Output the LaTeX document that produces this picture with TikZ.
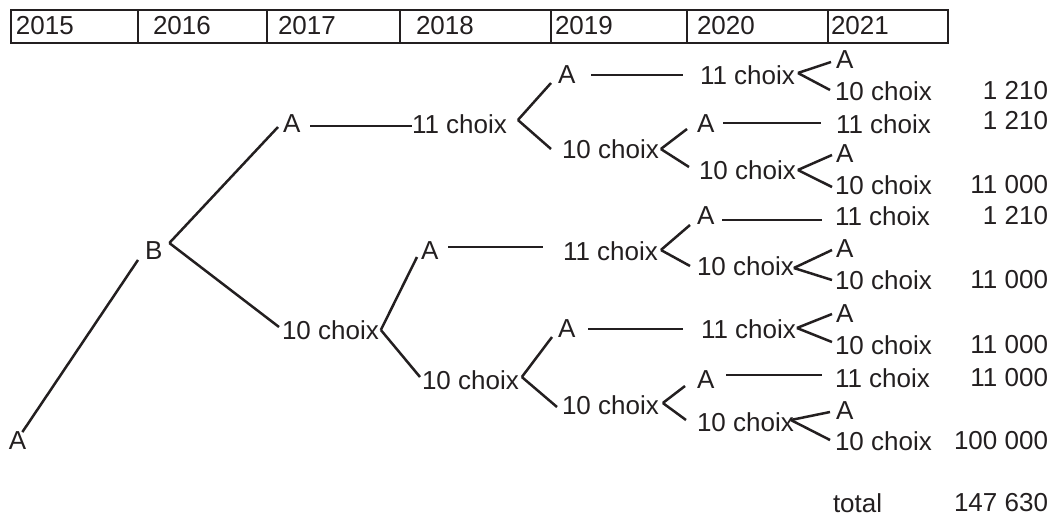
\documentclass[tikz,border=0pt]{standalone}
\usepackage{fontspec}
\setmainfont{Liberation Sans}
\usepackage{xcolor}
\definecolor{ink}{RGB}{35,31,32}
\usetikzlibrary{positioning, calc}
\tikzstyle{Leaf} = [
inner sep=0pt, outer sep=0pt,
anchor=west, text=ink,
font=\fontsize{26}{30}\selectfont]
\tikzstyle{Count} = [Leaf, anchor=east]
\tikzstyle{Branch} = [line width=2.5pt, draw=ink]
\tikzstyle{Cell} = [line width=2.5pt, draw=ink]

\begin{document}
\begin{tikzpicture}[x=1pt, y=-1pt]
    \useasboundingbox (0,0) rectangle (1057,517);

    % years
    \draw[Cell] (11,10) rectangle (138,43);
    \draw[Cell] (138,10) rectangle (267,43);
    \draw[Cell] (267,10) rectangle (400,43);
    \draw[Cell] (400,10) rectangle (551,43);
    \draw[Cell] (551,10) rectangle (687,43);
    \draw[Cell] (687,10) rectangle (828,43);
    \draw[Cell] (828,10) rectangle (948,43);
    \node[Leaf] (y15) at (16,26) {2015};
    \node[Leaf] (y16) at (153,26) {2016};
    \node[Leaf] (y17) at (278,26) {2017};
    \node[Leaf] (y18) at (416,26) {2018};
    \node[Leaf] (y19) at (555,26) {2019};
    \node[Leaf] (y20) at (697,26) {2020};
    \node[Leaf] (y21) at (831,26) {2021};

    % tree
    \node[Leaf] (a0) at (9,441) {A};
    \node[Leaf] (b) at (145,251) {B};
    \node[Leaf] (a1) at (283,124) {A};
    \node[Leaf] (c1) at (282,330) {10 choix};
    \node[Leaf] (d1) at (412,124) {11 choix};
    \node[Leaf] (d2) at (421,251) {A};
    \node[Leaf] (d3) at (422,380) {10 choix};
    \node[Leaf] (e1) at (558,75) {A};
    \node[Leaf] (e2) at (562,149) {10 choix};
    \node[Leaf] (e3) at (563,251) {11 choix};
    \node[Leaf] (e4) at (558,329) {A};
    \node[Leaf] (e5) at (562,405) {10 choix};
    \node[Leaf] (f1) at (700,75) {11 choix};
    \node[Leaf] (f2) at (697,124) {A};
    \node[Leaf] (f3) at (699,170) {10 choix};
    \node[Leaf] (f4) at (697,216) {A};
    \node[Leaf] (f5) at (697,266) {10 choix};
    \node[Leaf] (f6) at (701,329) {11 choix};
    \node[Leaf] (f7) at (697,380) {A};
    \node[Leaf] (f8) at (697,422) {10 choix};
    \node[Leaf] (g1) at (836,60) {A};
    \node[Leaf] (g2) at (835,91) {10 choix};
    \node[Leaf] (g3) at (836,124) {11 choix};
    \node[Leaf] (g4) at (836,154) {A};
    \node[Leaf] (g5) at (835,185) {10 choix};
    \node[Leaf] (g6) at (835,216) {11 choix};
    \node[Leaf] (g7) at (836,249) {A};
    \node[Leaf] (g8) at (835,280) {10 choix};
    \node[Leaf] (g9) at (836,314) {A};
    \node[Leaf] (g10) at (835,345) {10 choix};
    \node[Leaf] (g11) at (835,378) {11 choix};
    \node[Leaf] (g12) at (836,411) {A};
    \node[Leaf] (g13) at (835,441) {10 choix};

    % counts
    \node[Count] (n2) at (1048,91) {1 210};
    \node[Count] (n3) at (1048,121) {1 210};
    \node[Count] (n5) at (1048,185) {11 000};
    \node[Count] (n6) at (1048,216) {1 210};
    \node[Count] (n8) at (1048,280) {11 000};
    \node[Count] (n10) at (1048,345) {11 000};
    \node[Count] (n11) at (1048,378) {11 000};
    \node[Count] (n13) at (1048,441) {100 000};
    \node[Leaf] (tot) at (833,503) {total};
    \node[Count] (sum) at (1048,503) {147 630};

    % branches
    \draw[Branch] ([xshift=-4pt]a0.north east) -- ([xshift=-7pt]b.south west);
    \draw[Branch] ([shift={(7,-8)}]b.east) -- ([shift={(-5,3)}]a1.west);
    \draw[Branch] ([shift={(7,-8)}]b.east) -- ([shift={(-3,-3)}]c1.west);
    \draw[Branch] ([shift={(11,-4)}]d1.east) -- ([shift={(-7,8)}]e1.west);
    \draw[Branch] ([shift={(11,-4)}]d1.east) -- ([shift={(-11,0)}]e2.west);
    \draw[Branch] ([xshift=2pt]e2.east) -- ([shift={(-10,5)}]f2.west);
    \draw[Branch] ([xshift=2pt]e2.east) -- ([shift={(-10,-3)}]f3.west);
    \draw[Branch] ([shift={(3,-2)}]f1.east) -- ([shift={(-5,2)}]g1.west);
    \draw[Branch] ([shift={(3,-2)}]f1.east) -- ([shift={(-5,-1)}]g2.west);
    \draw[Branch] ([shift={(2,0)}]f3.east) -- ([shift={(-4,1)}]g4.west);
    \draw[Branch] ([shift={(2,0)}]f3.east) -- ([shift={(-3,2)}]g5.west);
    \draw[Branch] ([xshift=2pt]c1.east) -- ([shift={(-4,6)}]d2.west);
    \draw[Branch] ([xshift=2pt]c1.east) -- ([shift={(-2,-3)}]d3.west);
    \draw[Branch] ([shift={(3,-1)}]e3.east) -- ([shift={(-7,9)}]f4.west);
    \draw[Branch] ([shift={(3,-1)}]e3.east) -- ([shift={(-7,0)}]f5.west);
    \draw[Branch] ([shift={(0,2)}]f5.east) -- ([shift={(-4,1)}]g7.west);
    \draw[Branch] ([shift={(0,2)}]f5.east) -- ([shift={(-3,0)}]g8.west);
    \draw[Branch] ([shift={(3,-3)}]d3.east) -- ([shift={(-6,8)}]e4.west);
    \draw[Branch] ([shift={(3,-3)}]d3.east) -- ([shift={(-5,2)}]e5.west);
    \draw[Branch] ([shift={(1,-1)}]f6.east) -- ([shift={(-4,0)}]g9.west);
    \draw[Branch] ([shift={(1,-1)}]f6.east) -- ([shift={(-3,-3)}]g10.west);
    \draw[Branch] ([shift={(4,-2)}]e5.east) -- ([shift={(-12,6)}]f7.west);
    \draw[Branch] ([shift={(4,-2)}]e5.east) -- ([shift={(-11,-2)}]f8.west);
    \draw[Branch] ([shift={(-3,-2)}]f8.east) -- ([shift={(-6,1)}]g12.west);
    \draw[Branch] ([shift={(-3,-2)}]f8.east) -- ([shift={(-5,-1)}]g13.west);

    % straight links
    \draw[Branch] ([shift={(10,2)}]a1.east) -- ($(a1.east -| d1.west)+(0,2)$);
    \draw[Branch] ([xshift=16pt]e1.east) -- ($(e1.east -| f1.west)+(-17,0)$);
    \draw[Branch] ([shift={(9,-1)}]f2.east) -- ($(f2.east -| g3.west)+(-15,-1)$);
    \draw[Branch] ([shift={(10,-4)}]d2.east) -- ($(d2.east -| e3.west)+(-20,-4)$);
    \draw[Branch] ([shift={(8,4)}]f4.east) -- ($(f4.east -| g6.west)+(-13,4)$);
    \draw[Branch] ([shift={(13,0)}]e4.east) -- ($(e4.east -| f6.west)+(-18,0)$);
    \draw[Branch] ([shift={(12,-5)}]f7.east) -- ($(f7.east -| g11.west)+(-13,-5)$);
\end{tikzpicture}
\end{document}
